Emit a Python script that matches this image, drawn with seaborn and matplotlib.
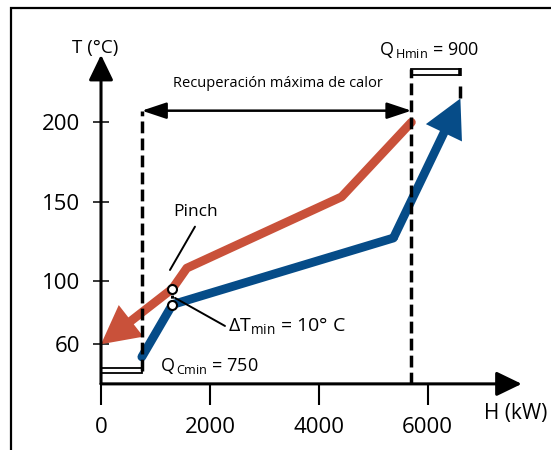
import matplotlib
matplotlib.use("Agg")
import matplotlib.pyplot as plt
import matplotlib.transforms as mtransforms
from matplotlib.patches import Rectangle
import pandas as pd
import seaborn as sns

# Composite curves: enthalpy H (kW) against temperature T (°C)
hot_H = [5700, 4420, 1575, 1310, 0]
hot_T = [200, 153, 108, 95, 60]
cold_H = [750, 1310, 5370, 6600]
cold_T = [52, 85, 127, 215]

# Pinch points (hot / cold)
pinch_H = [1310, 1310]
pinch_T = [95, 85]

q_cmin = 750
q_hmin = 900
dt_min = 10

x_ticks = [0, 2000, 4000, 6000]
y_ticks = [60, 100, 150, 200]

# Layout helpers (axis origin, arrow tips, bracket heights)
T_AXIS = 35
T_TOP = 242.5
H_RIGHT = 7726
T_QC = 43.4
T_QH = 231.7
T_REC = 207.3

RED = "#C9513A"
BLUE = "#064C88"

sns.set_theme(style="white", rc={
    "text.color": "black", "axes.labelcolor": "black",
    "xtick.color": "black", "ytick.color": "black",
})
plt.rcParams["font.family"] = ["Open Sans", "DejaVu Sans"]
plt.rcParams["mathtext.fontset"] = "custom"
plt.rcParams["mathtext.rm"] = "Open Sans"
plt.rcParams["mathtext.it"] = "Open Sans:italic"
plt.rcParams["mathtext.bf"] = "Open Sans:bold"

fig = plt.figure(figsize=(5.51, 4.5), dpi=100)
ax = fig.add_axes([0, 0, 1, 1])
ax.patch.set_alpha(0)

hot = pd.DataFrame({"H": hot_H, "T": hot_T})
cold = pd.DataFrame({"H": cold_H, "T": cold_T})

line_kw = dict(sort=False, estimator=None, lw=6.3, solid_capstyle="round",
               solid_joinstyle="round", ax=ax, zorder=3, legend=False)
sns.lineplot(data=hot.iloc[:-1], x="H", y="T", color=RED, **line_kw)
sns.lineplot(data=cold.iloc[:-1], x="H", y="T", color=BLUE, **line_kw)


def curve_arrow(frm, to, color):
    ax.annotate("", xy=to, xytext=frm,
                arrowprops=dict(arrowstyle="simple,head_length=2.74,head_width=2.88,tail_width=0.63",
                                mutation_scale=10, color=color, lw=0,
                                shrinkA=0, shrinkB=0),
                zorder=3)


curve_arrow((hot_H[-2], hot_T[-2]), (hot_H[-1], hot_T[-1]), RED)
curve_arrow((cold_H[-2], cold_T[-2]), (cold_H[-1], cold_T[-1]), BLUE)

# Axes drawn as arrows from the origin
axis_arrow = dict(arrowstyle="-|>,head_length=1.55,head_width=0.75", mutation_scale=10,
                  color="black", lw=2.2, shrinkA=0, shrinkB=0)
ax.annotate("", xy=(0, T_TOP), xytext=(0, T_AXIS), arrowprops=axis_arrow, zorder=4)
ax.annotate("", xy=(H_RIGHT, T_AXIS), xytext=(0, T_AXIS), arrowprops=axis_arrow, zorder=4)

for side in ax.spines.values():
    side.set_visible(False)
ax.spines["left"].set_position(("data", 0))
ax.spines["bottom"].set_position(("data", T_AXIS))

ax.set_xticks(x_ticks)
ax.set_yticks(y_ticks)
ax.set_xticklabels([str(v) for v in x_ticks])
ax.set_yticklabels([str(v) for v in y_ticks])
ax.tick_params(axis="x", direction="out", length=15, width=1.5, pad=9, labelsize=16,
               bottom=True)
ax.tick_params(axis="y", direction="inout", length=12.2, width=1.1, pad=9, labelsize=16,
               left=True)
ax.set_xlabel("")
ax.set_ylabel("")

# Dashed guide lines
dash = dict(color="black", lw=2.5, ls=(0, (3.4, 1.5)), zorder=5)
ax.plot([q_cmin, q_cmin], [T_QC, T_REC], **dash)
ax.plot([hot_H[0], hot_H[0]], [T_AXIS, T_QH + 2.0], **dash)
h_end = hot_H[0] + q_hmin
ax.plot([h_end, h_end], [215.5, 222.8], color="black", lw=2.5,
        solid_capstyle="butt", zorder=5)

# Minimum utility brackets
ax.add_patch(Rectangle((0, T_QC - 1.35), q_cmin, 2.7, fill=False, ec="black",
                       lw=1.3, zorder=4))
ax.add_patch(Rectangle((hot_H[0], T_QH - 1.7), q_hmin, 3.4, fill=False, ec="black",
                       lw=1.3, zorder=4))
ax.plot([h_end, h_end], [T_QH - 2.4, T_QH + 2.4], color="black", lw=2.6,
        solid_capstyle="butt", zorder=5)

# Maximum heat recovery span
ax.annotate("", xy=(hot_H[0], T_REC), xytext=(q_cmin, T_REC),
            arrowprops=dict(arrowstyle="<|-|>,head_length=1.5,head_width=0.5",
                            mutation_scale=10, color="black", lw=1.8,
                            shrinkA=0, shrinkB=0), zorder=5)
ax.annotate("Recuperación máxima de calor", xy=((q_cmin + hot_H[0]) / 2, T_REC),
            xytext=(1, 17), textcoords="offset points", ha="center", va="baseline",
            fontsize=10.5)

# Pinch markers
ax.plot(pinch_H, pinch_T, color="black", lw=2.2, ls=(0, (1, 1)), zorder=5)
sns.scatterplot(x=pinch_H, y=pinch_T, s=42, color="white", edgecolor="black",
                linewidth=1.5, zorder=6, ax=ax, legend=False)


def off(dx, dy):
    return mtransforms.offset_copy(ax.transData, fig=fig, x=dx, y=dy, units="points")


pin = (pinch_H[0], pinch_T[0])
leader = dict(arrowstyle="-", lw=1.4, color="black", shrinkA=0, shrinkB=0)
ax.annotate("", xy=pin, xycoords=off(-1.7, 13.5), xytext=pin,
            textcoords=off(16.3, 44.7), arrowprops=leader, zorder=7)
ax.annotate("Pinch", xy=pin, xytext=(17, 55.3), textcoords="offset points",
            ha="center", va="center", fontsize=12.5)
ax.annotate("", xy=pin, xycoords=off(37.9, -26.8), xytext=pin,
            textcoords=off(1.9, -6.6), arrowprops=leader, zorder=7)
ax.annotate(f"ΔT$_{{\\mathregular{{min}}}}$ = {dt_min}° C", xy=pin, xytext=(40.1, -30.4),
            textcoords="offset points", ha="left", va="baseline", fontsize=14)

# Utility labels
ax.annotate(f"Q$_{{\\mathregular{{\\,Cmin}}}}$ = {q_cmin}", xy=(q_cmin, T_QC),
            xytext=(13.1, -0.6), textcoords="offset points", ha="left",
            va="baseline", fontsize=13)
ax.annotate(f"Q$_{{\\mathregular{{\\,Hmin}}}}$ = {q_hmin}", xy=(hot_H[0], T_QH),
            xytext=(-23.1, 12.2), textcoords="offset points", ha="left",
            va="baseline", fontsize=13)

# Axis titles
ax.annotate("T (°C)", xy=(0, T_TOP), xytext=(-4.3, 4.8), textcoords="offset points",
            ha="center", va="center", fontsize=13.5)
ax.annotate("H (kW)", xy=(H_RIGHT, T_AXIS), xytext=(-4.5, -21.1),
            textcoords="offset points", ha="center", va="center", fontsize=15)

ax.set_xlim(-1855, 8264)
ax.set_ylim(-6.7, 277.1)

# Outer frame
fig.add_artist(Rectangle((10.5 / 551, -0.1), 1.2, 1.1 - 7.7 / 450,
                         transform=fig.transFigure, fill=False, ec="black", lw=1.6))

fig.savefig("out.png", dpi=100)
